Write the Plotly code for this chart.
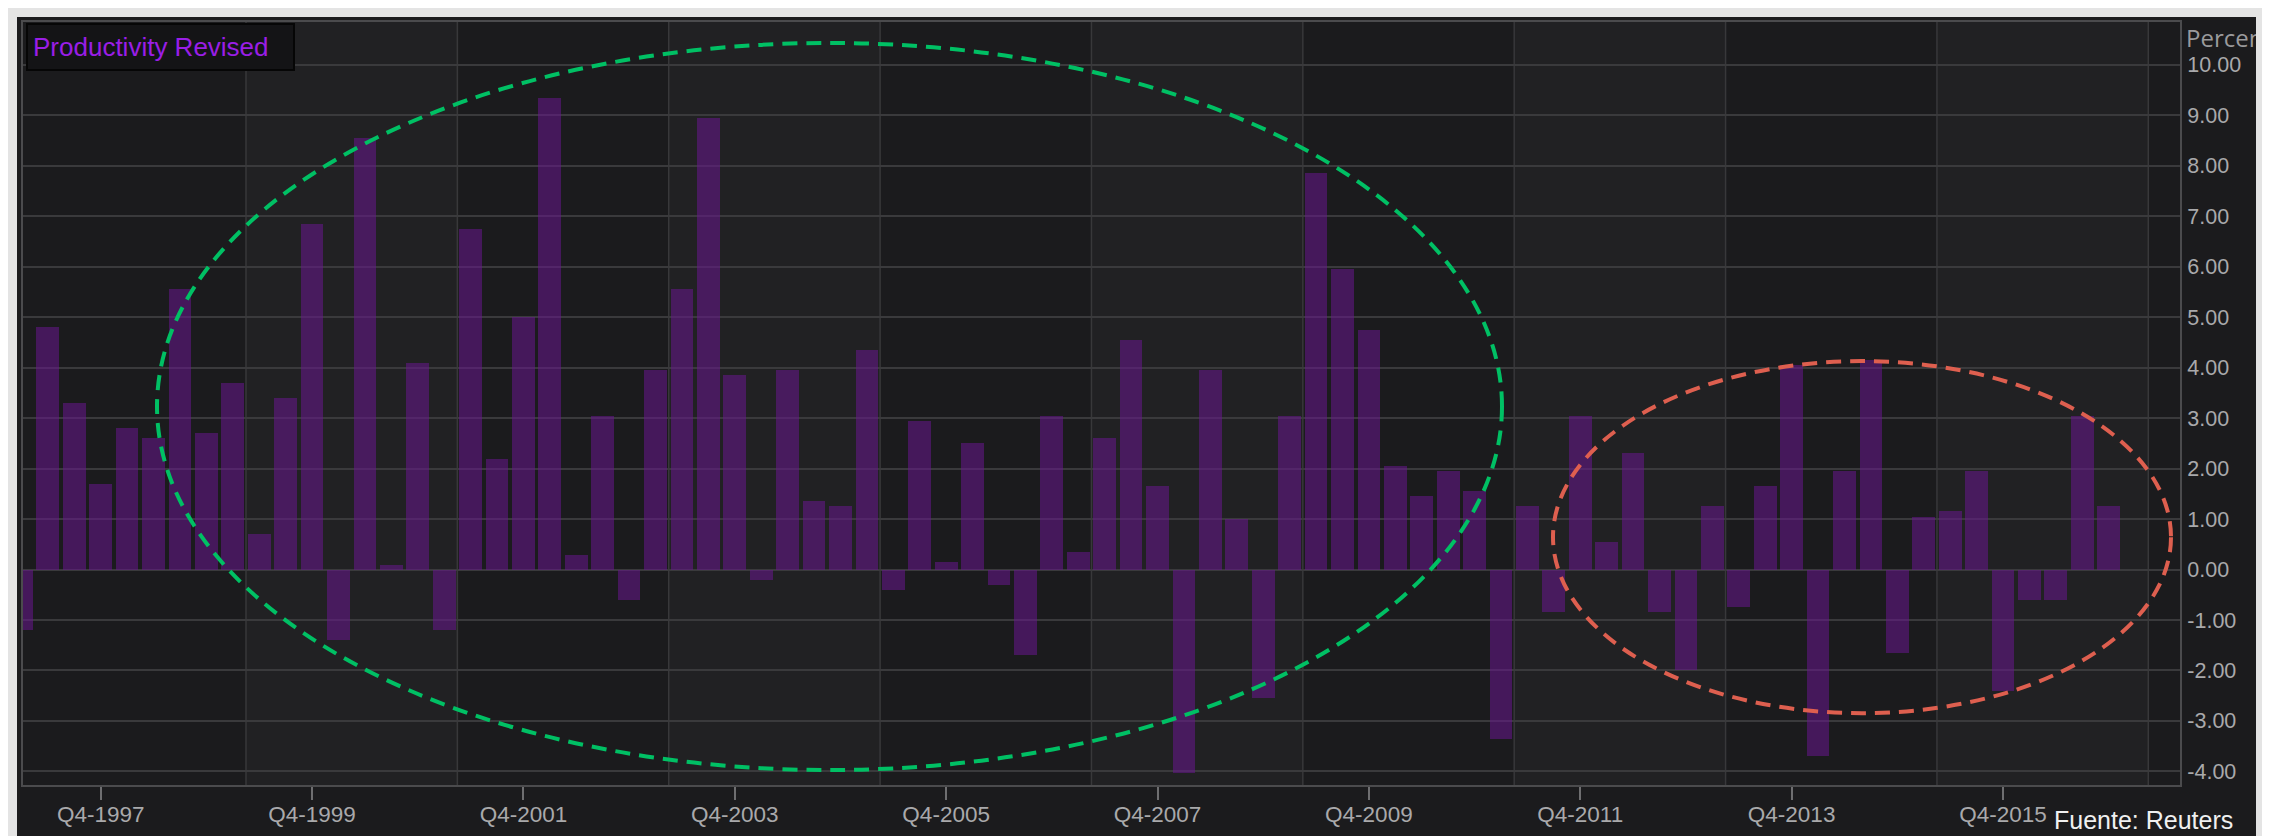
import plotly.graph_objects as go

# ---------------- data ----------------
years = list(range(1997, 2017))
quarters = [f"Q{q}-{y}" for y in years for q in range(1, 5)]

productivity = [
    -1.2, 4.8, 3.3, 1.7,      # 1997
    2.8, 2.6, 5.55, 2.7,      # 1998
    3.7, 0.7, 3.4, 6.85,      # 1999
    -1.4, 8.55, 0.08, 4.1,    # 2000
    -1.2, 6.75, 2.2, 5.0,     # 2001
    9.35, 0.28, 3.05, -0.6,   # 2002
    3.95, 5.55, 8.95, 3.85,   # 2003
    -0.2, 3.95, 1.35, 1.25,   # 2004
    4.35, -0.4, 2.95, 0.15,   # 2005
    2.5, -0.3, -1.7, 3.05,    # 2006
    0.35, 2.6, 4.55, 1.65,    # 2007
    -4.03, 3.95, 1.0, -2.55,  # 2008
    3.05, 7.85, 5.95, 4.75,   # 2009
    2.05, 1.45, 1.95, 1.55,   # 2010
    -3.35, 1.25, -0.85, 3.05, # 2011
    0.55, 2.3, -0.85, -2.0,   # 2012
    1.25, -0.75, 1.65, 4.05,  # 2013
    -3.7, 1.95, 4.15, -1.65,  # 2014
    1.05, 1.15, 1.95, -2.4,   # 2015
    -0.6, -0.6, 3.05, 1.25,   # 2016
]

x_tick_labels = ["Q4-1997", "Q4-1999", "Q4-2001", "Q4-2003", "Q4-2005",
                 "Q4-2007", "Q4-2009", "Q4-2011", "Q4-2013", "Q4-2015"]
y_ticks = [-4, -3, -2, -1, 0, 1, 2, 3, 4, 5, 6, 7, 8, 9, 10]
y_tick_labels = [f"{v:.2f}" for v in y_ticks]

series_name = "Productivity Revised"
unit_label = "Percent"
source_label = "Fuente: Reuters"

# ---------------- layout geometry ----------------
W, H = 2270, 836
PL, PR, PT, PB = 15, 2172, 12, 777


def px(x):
    return (x - PL) / (PR - PL)


def py(y):
    return (PB - y) / (PB - PT)


X_RANGE = [0.06, 81.7]
Y_RANGE = [-4.27, 10.85]

X_TICK_FONT = dict(family="Liberation Sans, Arial, sans-serif", size=22.5, color="#a9a9ab")
Y_TICK_FONT = dict(family="Liberation Sans, Arial, sans-serif", size=21.5, color="#a9a9ab")

fig = go.Figure()
fig.add_trace(go.Bar(
    x=quarters, y=productivity, name=series_name,
    marker=dict(color="rgba(103,23,140,0.56)", line=dict(width=0)),
    width=0.86, hoverinfo="x+y",
))

shapes = []
# outer dark panel
shapes.append(dict(type="rect", xref="paper", yref="paper",
                   x0=px(9), x1=px(2248), y0=py(836), y1=py(7),
                   fillcolor="#1b1b1d", line=dict(width=0), layer="below"))
# alternating vertical bands between gridlines
grid_x = [8.5 + 8 * k for k in range(10)]
bounds = [X_RANGE[0]] + grid_x + [X_RANGE[1]]
for i in range(len(bounds) - 1):
    shapes.append(dict(type="rect", xref="x", yref="paper",
                       x0=bounds[i], x1=bounds[i + 1], y0=0, y1=1,
                       fillcolor="#1b1b1d" if i % 2 == 0 else "#212123",
                       line=dict(width=0), layer="below"))
for gx in grid_x:
    shapes.append(dict(type="line", xref="x", yref="paper",
                       x0=gx, x1=gx, y0=0, y1=1,
                       line=dict(color="#38383a", width=1.5), layer="below"))
# highlight ellipses
shapes.append(dict(type="circle", xref="paper", yref="paper",
                   x0=px(149), x1=px(1494), y0=py(762), y1=py(33),
                   line=dict(color="#00c064", width=4, dash="15px,9px"),
                   layer="above"))
shapes.append(dict(type="circle", xref="paper", yref="paper",
                   x0=px(1545), x1=px(2163), y0=py(705), y1=py(352),
                   line=dict(color="#de5f4f", width=4, dash="15px,9px"),
                   layer="above"))

annotations = [
    dict(text=series_name, xref="paper", yref="paper",
         x=px(18), y=py(13), xanchor="left", yanchor="top",
         showarrow=False, align="left", width=255, height=34,
         bgcolor="#141416", bordercolor="#060606", borderwidth=2, borderpad=5,
         font=dict(family="Liberation Sans, Arial, sans-serif", size=26, color="#9a1ee6")),
    dict(text=unit_label, xref="paper", yref="paper",
         x=px(2177), y=py(28), xanchor="left", yanchor="middle",
         showarrow=False, align="left", width=70, borderpad=0,
         font=dict(family="Open Sans, sans-serif", size=24, color="#9a9a9c")),
    dict(text=source_label, xref="paper", yref="paper",
         x=px(2044), y=py(812), xanchor="left", yanchor="middle",
         showarrow=False, align="left",
         font=dict(family="Liberation Sans, Arial, sans-serif", size=25, color="#f0f0f0")),
]

fig.update_layout(
    width=W, height=H, autosize=False,
    margin=dict(l=PL, r=W - PR, t=PT, b=H - PB, pad=0),
    paper_bgcolor="#e4e4e4", plot_bgcolor="#1b1b1d",
    showlegend=False, shapes=shapes, annotations=annotations,
    bargap=0,
    xaxis=dict(type="category", range=X_RANGE, tickmode="array",
               tickvals=x_tick_labels, ticktext=x_tick_labels,
               ticks="outside", ticklen=13, tickwidth=2, tickcolor="#6e6e70",
               ticklabelstandoff=-5,
               tickfont=X_TICK_FONT, showgrid=False, zeroline=False,
               showline=True, linewidth=2, linecolor="#4b4b4d", mirror=True,
               fixedrange=True),
    yaxis=dict(side="right", range=Y_RANGE, tickmode="array",
               tickvals=y_ticks, ticktext=y_tick_labels, ticks="",
               ticklabelstandoff=1,
               tickfont=Y_TICK_FONT, showgrid=True, gridcolor="#3a3a3c", gridwidth=2,
               zeroline=False, showline=True, linewidth=2, linecolor="#4b4b4d",
               mirror=True, fixedrange=True),
)

fig.write_html("out.html")
